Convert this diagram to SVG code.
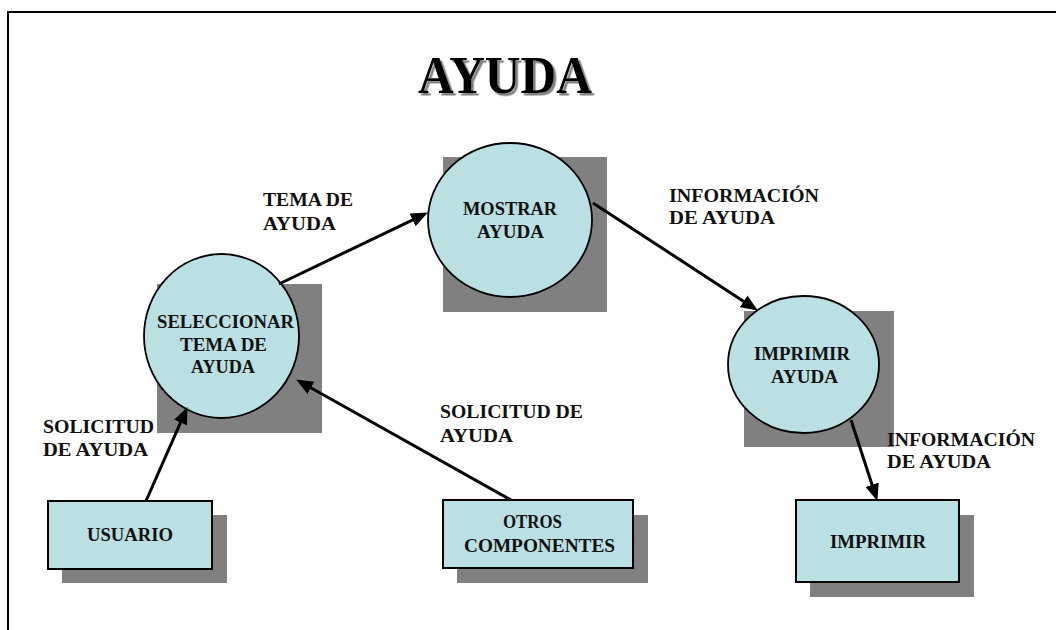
<svg xmlns="http://www.w3.org/2000/svg" width="1056" height="630" viewBox="0 0 1056 630">
<style>
.shadow{fill:#808080}
.proc{fill:#bbe0e3;stroke:#000;stroke-width:1.8}
.ent{fill:#bbe0e3;stroke:#000;stroke-width:2}
.t{font-family:"Liberation Serif","Times New Roman",serif;font-weight:bold;font-size:18.5px;fill:#111}
.flow{stroke:#000;stroke-width:3;fill:none;marker-end:url(#arr)}
.title{font-family:"Liberation Serif","Times New Roman",serif;font-weight:bold;font-size:52px;fill:#000}
</style>
<defs>
<marker id="arr" markerUnits="userSpaceOnUse" markerWidth="18" markerHeight="14" refX="13" refY="7" orient="auto">
<path d="M0,0 L17,7 L0,14 z" fill="#000"/>
</marker>
<filter id="tshadow" x="-5%" y="-5%" width="115%" height="130%">
<feDropShadow dx="2.5" dy="2.5" stdDeviation="0.6" flood-color="#808080" flood-opacity="1"/>
</filter>
</defs>
<rect width="1056" height="630" fill="#fff"/>
<path d="M8,630 L8,12 L1056,12" fill="none" stroke="#000" stroke-width="2"/>
<g id="title">
<text class="title" x="418" y="93" textLength="174" lengthAdjust="spacingAndGlyphs" filter="url(#tshadow)">AYUDA</text>
</g>
<g id="mostrar">
<rect class="shadow" x="443" y="157" width="164" height="155"/>
<ellipse class="proc" cx="510" cy="220" rx="82" ry="77"/>
<text class="t" x="463" y="215" textLength="94" lengthAdjust="spacingAndGlyphs">MOSTRAR</text>
<text class="t" x="477" y="238" textLength="67" lengthAdjust="spacingAndGlyphs">AYUDA</text>
</g>
<g id="seleccionar">
<rect class="shadow" x="157" y="284" width="165" height="149"/>
<ellipse class="proc" cx="221.5" cy="336" rx="77.5" ry="82"/>
<text class="t" x="157" y="328" textLength="137" lengthAdjust="spacingAndGlyphs">SELECCIONAR</text>
<text class="t" x="180" y="351" textLength="87" lengthAdjust="spacingAndGlyphs">TEMA DE</text>
<text class="t" x="191" y="373" textLength="64" lengthAdjust="spacingAndGlyphs">AYUDA</text>
</g>
<g id="imprimir-ayuda">
<rect class="shadow" x="744" y="311" width="150" height="136"/>
<ellipse class="proc" cx="803.5" cy="364.5" rx="75.5" ry="68.5"/>
<text class="t" x="754" y="360" textLength="96" lengthAdjust="spacingAndGlyphs">IMPRIMIR</text>
<text class="t" x="771" y="383" textLength="67" lengthAdjust="spacingAndGlyphs">AYUDA</text>
</g>
<g id="usuario">
<rect class="shadow" x="62" y="515" width="165" height="68"/>
<rect class="ent" x="48" y="501" width="164" height="68"/>
<text class="t" x="87" y="541" textLength="86" lengthAdjust="spacingAndGlyphs">USUARIO</text>
</g>
<g id="otros">
<rect class="shadow" x="457" y="515" width="191" height="68"/>
<rect class="ent" x="443" y="500" width="190" height="68"/>
<text class="t" x="503" y="528" textLength="59" lengthAdjust="spacingAndGlyphs">OTROS</text>
<text class="t" x="464" y="552" textLength="151" lengthAdjust="spacingAndGlyphs">COMPONENTES</text>
</g>
<g id="imprimir">
<rect class="shadow" x="810" y="515" width="164" height="82"/>
<rect class="ent" x="796" y="500" width="163" height="82"/>
<text class="t" x="830" y="548" textLength="96" lengthAdjust="spacingAndGlyphs">IMPRIMIR</text>
</g>
<g id="connectors">
<line class="flow" x1="146" y1="501" x2="185.8" y2="410.7"/>
<line class="flow" x1="511" y1="500" x2="299.6" y2="381.5"/>
<line class="flow" x1="279" y1="284" x2="424.3" y2="214.3"/>
<line class="flow" x1="593" y1="203" x2="754.5" y2="308.4"/>
<line class="flow" x1="851" y1="420" x2="876.1" y2="497.1"/>
</g>
<g id="labels">
<text class="t" x="263" y="206" textLength="90" lengthAdjust="spacingAndGlyphs">TEMA DE</text>
<text class="t" x="263" y="230" textLength="73" lengthAdjust="spacingAndGlyphs">AYUDA</text>
<text class="t" x="669" y="202" textLength="150" lengthAdjust="spacingAndGlyphs">INFORMACIÓN</text>
<text class="t" x="669" y="224" textLength="106" lengthAdjust="spacingAndGlyphs">DE AYUDA</text>
<text class="t" x="43" y="433" textLength="111" lengthAdjust="spacingAndGlyphs">SOLICITUD</text>
<text class="t" x="43" y="456" textLength="105" lengthAdjust="spacingAndGlyphs">DE AYUDA</text>
<text class="t" x="440" y="418" textLength="143" lengthAdjust="spacingAndGlyphs">SOLICITUD DE</text>
<text class="t" x="440" y="442" textLength="73" lengthAdjust="spacingAndGlyphs">AYUDA</text>
<text class="t" x="887" y="446" textLength="148" lengthAdjust="spacingAndGlyphs">INFORMACIÓN</text>
<text class="t" x="887" y="468" textLength="104" lengthAdjust="spacingAndGlyphs">DE AYUDA</text>
</g>
</svg>
